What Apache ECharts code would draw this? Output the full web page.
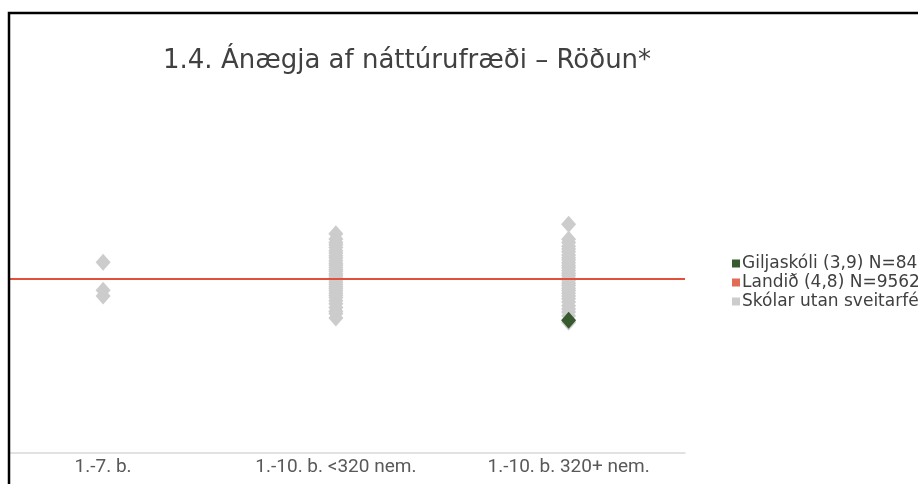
<!DOCTYPE html>
<html>
<head>
<meta charset="utf-8">
<script src="https://cdn.jsdelivr.net/npm/echarts@6/dist/echarts.min.js"></script>
<style>
html,body{margin:0;padding:0;background:#fff;}
#c{width:918px;height:484px;}
</style>
</head>
<body>
<div id="c"></div>
<script>
var categories = ['1.-7. b.', '1.-10. b. <320 nem.', '1.-10. b. 320+ nem.'];
var seriesNames = ['Giljaskóli (3,9) N=84', 'Landið (4,8) N=9562', 'Skólar utan sveitarfélags'];
var landValue = 4.8;
var schoolValue = 3.9;
var schoolCategory = 3;
var otherCol1 = [5.17, 4.56, 4.43];
var otherCol2 = [5.79, 5.68, 5.60, 5.55, 5.49, 5.42, 5.37, 5.31, 5.26, 5.20, 5.15, 5.11, 5.06, 5.01, 4.97, 4.92, 4.88, 4.83, 4.78, 4.74, 4.69, 4.64, 4.60, 4.55, 4.50, 4.45, 4.40, 4.33, 4.26, 4.18, 4.10, 4.05, 3.95];
var otherCol3 = [6.00, 5.67, 5.60, 5.52, 5.46, 5.40, 5.33, 5.27, 5.22, 5.16, 5.10, 5.05, 4.99, 4.93, 4.88, 4.82, 4.77, 4.71, 4.66, 4.60, 4.55, 4.49, 4.43, 4.37, 4.30, 4.22, 4.15, 4.08, 4.00, 3.86];

var otherData = []
  .concat(otherCol1.map(function(v){return [1, v];}))
  .concat(otherCol2.map(function(v){return [2, v];}))
  .concat(otherCol3.map(function(v){return [3, v];}));

var chart = echarts.init(document.getElementById('c'), null, {renderer: 'canvas'});
var FONT = '"DejaVu Sans", sans-serif';
chart.setOption({
  animation: false,
  backgroundColor: '#ffffff',
  title: {
    text: '1.4. Ánægja af náttúrufræði – Röðun*',
    left: 158, top: 43,
    textStyle: {fontFamily: FONT, fontSize: 26, fontWeight: 'normal', color: '#404040'}
  },
  legend: {
    orient: 'vertical',
    left: 727, top: 250,
    itemWidth: 8, itemHeight: 8, itemGap: 2,
    icon: 'rect',
    data: seriesNames,
    textStyle: {fontFamily: FONT, fontSize: 17, lineHeight: 16, color: '#404040', padding: [0,0,0,-3]}
  },
  grid: {left: 10, right: 233, top: 87, bottom: 31},
  xAxis: {
    type: 'value', min: 0.6, max: 3.5,
    splitLine: {show: false},
    axisTick: {show: false},
    axisLine: {show: true, lineStyle: {color: '#d9d9d9', width: 1.5}},
    axisLabel: {
      customValues: [1, 2, 3],
      formatter: function(v){ return categories[Math.round(v) - 1] || ''; },
      fontFamily: 'Roboto, sans-serif', fontSize: 19, color: '#595959', margin: 5
    }
  },
  yAxis: {
    type: 'value', min: 1, max: 9,
    show: false
  },
  graphic: [{
    type: 'rect',
    shape: {x: 9, y: 13, width: 1000, height: 1000},
    style: {fill: 'none', stroke: '#000', lineWidth: 2.5},
    silent: true, z: 100
  }],
  series: [
    {
      name: seriesNames[1],
      type: 'scatter',
      data: [],
      z: 1,
      itemStyle: {color: '#d9472b'},
      markLine: {
        silent: true, symbol: 'none',
        label: {show: false},
        lineStyle: {color: '#e0503a', width: 2, type: 'solid'},
        data: [{yAxis: landValue}]
      }
    },
    {
      name: seriesNames[2],
      type: 'scatter',
      z: 3,
      symbol: 'diamond',
      symbolSize: [15, 17],
      itemStyle: {color: '#cccccc', opacity: 1},
      data: otherData
    },
    {
      name: seriesNames[0],
      type: 'scatter',
      z: 4,
      symbol: 'diamond',
      symbolSize: [15, 17],
      itemStyle: {color: '#375a2e', opacity: 1},
      data: [[schoolCategory, schoolValue]]
    }
  ]
});
</script>
</body>
</html>
